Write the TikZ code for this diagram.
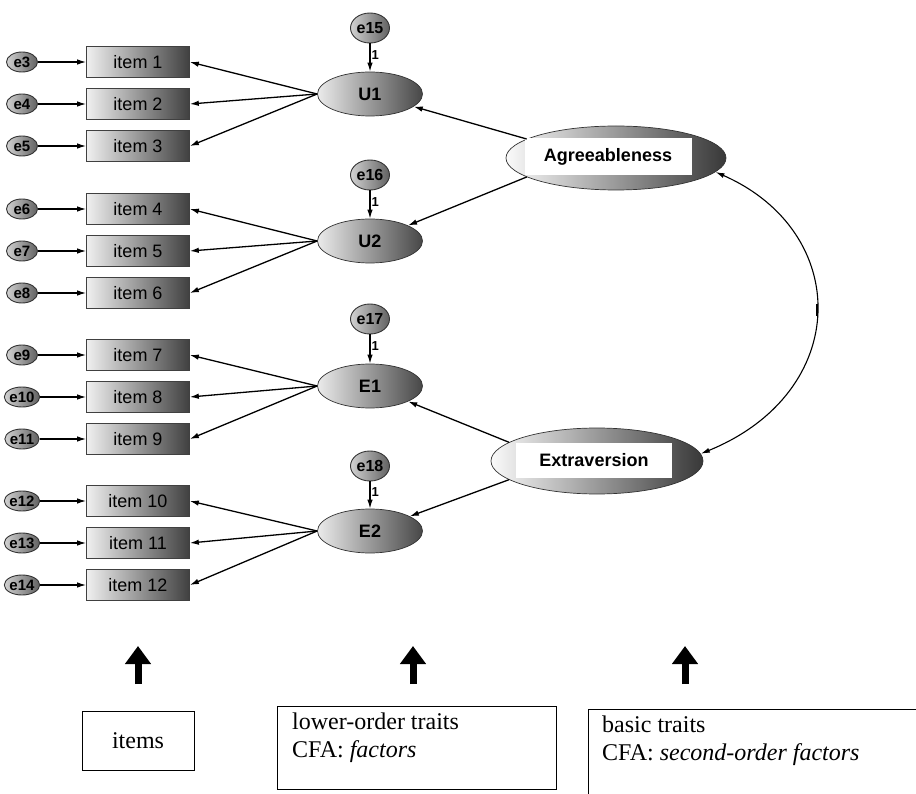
\documentclass[tikz,border=0pt]{standalone}
\usepackage{fontspec}
\setmainfont{Liberation Serif}
\newfontfamily\arial{Liberation Sans}
\usetikzlibrary{shapes.geometric,arrows.meta}
\definecolor{itemL}{gray}{0.94}
\definecolor{itemR}{gray}{0.25}
\definecolor{facL}{gray}{0.92}
\definecolor{facR}{gray}{0.28}
\definecolor{errL}{gray}{0.82}
\definecolor{errR}{gray}{0.38}
\definecolor{trL}{gray}{0.98}
\definecolor{trR}{gray}{0.22}
\begin{document}
\begin{tikzpicture}[x=1pt,y=-1pt,
  arr/.style={line width=1.3pt,-{Latex[length=9pt,width=5.5pt]}},
  errvar/.style={ellipse,draw=black!80,line width=0.9pt,left color=errL,right color=errR,
    minimum width=31pt,minimum height=20pt,inner sep=0pt,
    font=\arial\bfseries\fontsize{15}{15}\selectfont},
  bigerr/.style={errvar,minimum width=39pt,minimum height=30pt,
    font=\arial\bfseries\fontsize{16}{16}\selectfont},
  itembox/.style={rectangle,draw=black!75,line width=0.7pt,left color=itemL,right color=itemR,
    minimum width=103pt,minimum height=31pt,inner sep=0pt,
    font=\arial\fontsize{18}{18}\selectfont},
  factor/.style={ellipse,draw=black!80,line width=0.7pt,left color=facL,right color=facR,
    minimum width=105pt,minimum height=44pt,inner sep=0pt,
    font=\arial\bfseries\fontsize{18}{18}\selectfont},
  trait/.style={ellipse,draw=black!80,line width=0.7pt,left color=trL,right color=trR,inner sep=0pt},
  traitlbl/.style={fill=white,inner sep=0pt,font=\arial\bfseries\fontsize{18}{18}\selectfont},
  one/.style={font=\arial\bfseries\fontsize{13}{13}\selectfont,inner sep=1pt},
  bigarrow/.style={line width=7pt,-{Triangle[length=18pt,width=25pt]}},
  legend/.style={font=\fontsize{24}{28}\selectfont},
  legline/.style={legend,anchor=base west,inner sep=0pt}
]
\useasboundingbox (0,0) rectangle (916,794);

% observed items
\foreach \n/\y in {1/62,2/104,3/146,4/209,5/251,6/293,7/355,8/397,9/439,10/501,11/543,12/585}{
  \node[itembox] (item\n) at (138,\y) {item \n};
}
% item error terms
\foreach \e/\n in {3/1,4/2,5/3,6/4,7/5,8/6,9/7,10/8,11/9,12/10,13/11,14/12}{
  \node[errvar] (e\e) at (22,0 |- item\n) {e\e};
  \draw[arr] (e\e) -- (item\n);
}

% first-order factors and their disturbances
\node[factor] (U1) at (370,94)  {U1};
\node[factor] (U2) at (370,241) {U2};
\node[factor] (E1) at (370,386) {E1};
\node[factor] (E2) at (370,531) {E2};
\node[bigerr] (e15) at (370,28)  {e15};
\node[bigerr] (e16) at (370,175) {e16};
\node[bigerr] (e17) at (370,319) {e17};
\node[bigerr] (e18) at (370,466) {e18};
\foreach \d/\f in {e15/U1,e16/U2,e17/E1,e18/E2}{
  \draw[arr] (\d) -- node[one,right,pos=0.4] {1} (\f);
}

% loadings on the items
\foreach \f/\a/\b/\c in {U1/1/2/3,U2/4/5/6,E1/7/8/9,E2/10/11/12}{
  \draw[arr] (\f.west) -- (item\a.east);
  \draw[arr] (\f.west) -- (item\b.east);
  \draw[arr] (\f.west) -- (item\c.east);
}

% second-order factors
\node[trait,minimum width=220pt,minimum height=64pt] (agr) at (616,158) {};
\node[traitlbl,minimum width=167pt,minimum height=37pt] (agrlbl) at (608,157) {Agreeableness};
\node[trait,minimum width=212pt,minimum height=66pt] (ext) at (597,461) {};
\node[traitlbl,minimum width=156pt,minimum height=35pt] (extlbl) at (594,460) {Extraversion};

\draw[arr] (agr.168) -- (U1);
\draw[arr] (agr.192) -- (U2);
\draw[arr] (ext.168) -- (E1);
\draw[arr] (ext.192) -- (E2);

% correlation between the basic traits
\draw[line width=1.1pt,{Latex[length=9pt,width=5pt]}-{Latex[length=9pt,width=5pt]}]
  (agr.-8) .. controls (852,232) and (852,392) .. (ext.4);
\coordinate (tickA) at (817,304);
\coordinate (tickB) at (817,316);
\draw[line width=2pt] (tickA) -- (tickB);

% level markers
\coordinate (a1s) at (138,684);
\coordinate (a1e) at (138,646);
\coordinate (a2s) at (413,684);
\coordinate (a2e) at (413,646);
\coordinate (a3s) at (685,684);
\coordinate (a3e) at (685,646);
\draw[bigarrow] (a1s) -- (a1e);
\draw[bigarrow] (a2s) -- (a2e);
\draw[bigarrow] (a3s) -- (a3e);

\node[draw,line width=0.8pt,minimum width=112pt,minimum height=59pt,legend] (lvl1) at (138,740.5) {items};
\node[draw,line width=0.8pt,minimum width=279pt,minimum height=83pt] (lvl2) at (416.5,747.5) {};
\node[legline] (lvl2a) at (292,729) {lower-order traits};
\node[legline] (lvl2b) at (292,757) {CFA: \textit{factors}};
\coordinate (b3a) at (916,709);
\coordinate (b3b) at (588,709);
\coordinate (b3c) at (588,794);
\draw[line width=0.8pt] (b3a) -- (b3b) -- (b3c);
\node[legline] (lvl3a) at (602,732) {basic traits};
\node[legline] (lvl3b) at (602,760) {CFA: \textit{second-order factors}};
\end{tikzpicture}
\end{document}
